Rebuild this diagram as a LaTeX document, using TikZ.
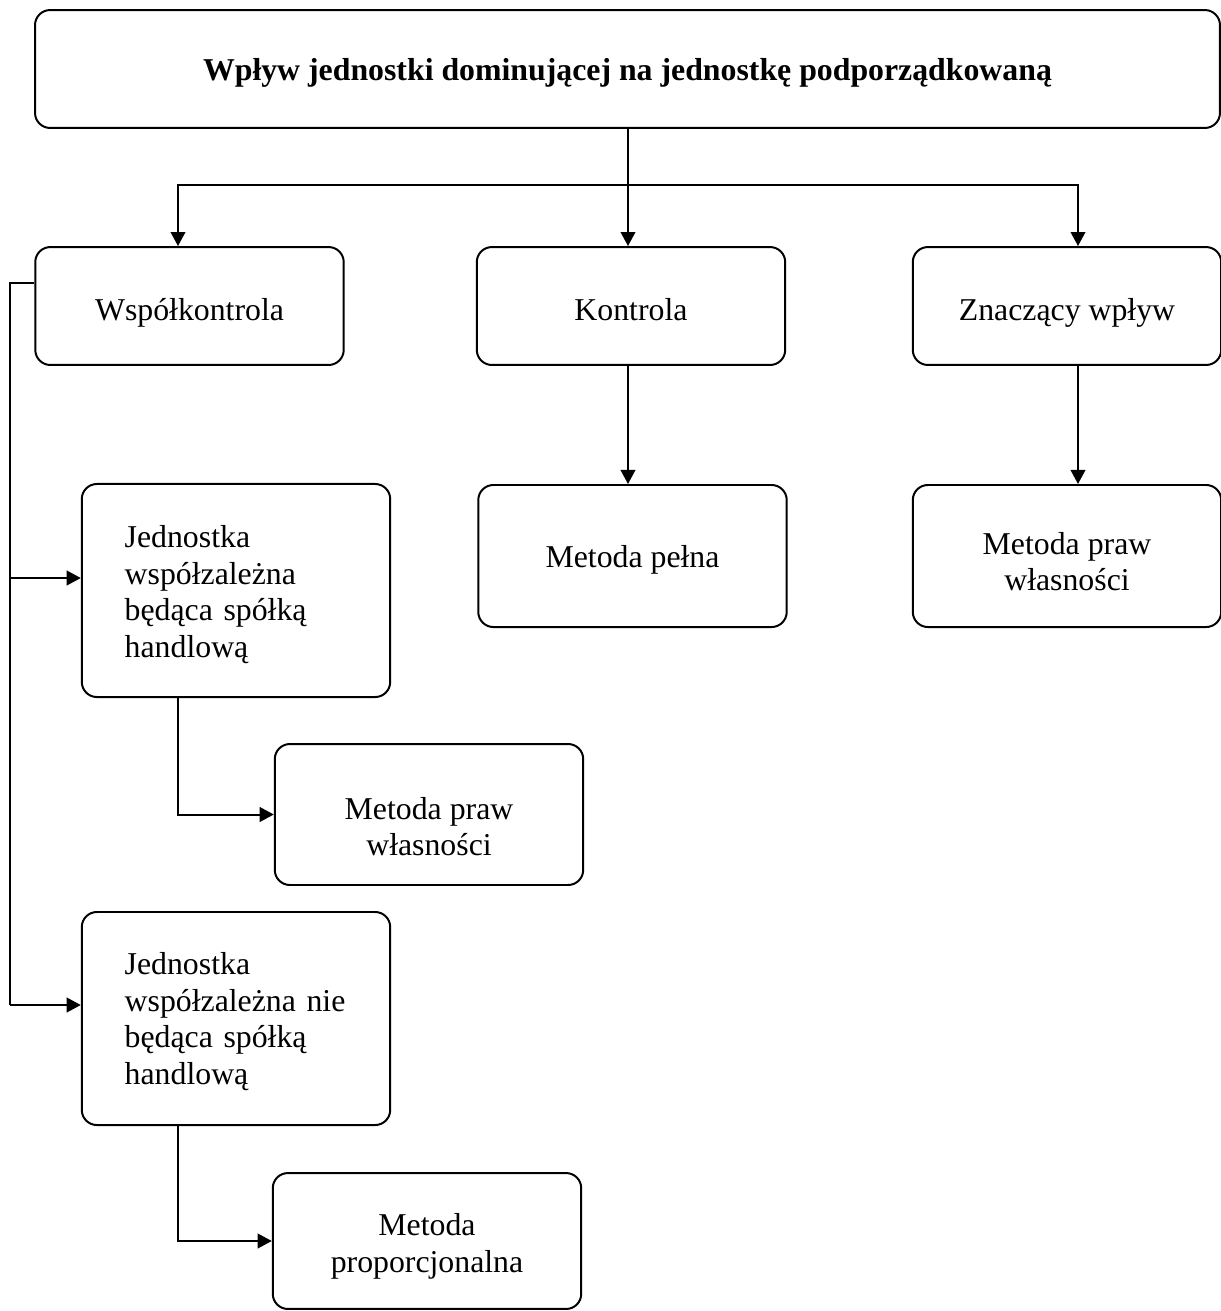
\documentclass[tikz,border=0pt]{standalone}
\usepackage{fontspec}
\setmainfont{Liberation Serif}
\usetikzlibrary{arrows.meta}

\begin{document}
\begin{tikzpicture}[x=0.3774pt, y=-0.3774pt, >={Triangle[length=5.3pt,width=5.5pt]}, line width=0.75pt, font=\fontsize{12}{13.8}\selectfont]
 \tikzstyle{box}=[rectangle, rounded corners=5.7pt, draw, minimum width=116.4pt, minimum height=44.5pt, align=center, text height=11pt, text depth=0pt]
 \tikzstyle{tall}=[box, minimum height=80.4pt, align=left, text width=84pt, text height=0pt]
\useasboundingbox (0,0) rectangle (1221,1311);

\node[box, minimum width=447.2pt, text height=8.8pt] (wplyw) at (627.5,69) {\textbf{Wpływ jednostki dominującej na jednostkę podporządkowaną}};
\node[box]                       (wspol) at (189.5,306) {Współkontrola};
\node[box]                       (kontr) at (631,306)   {Kontrola};
\node[box]                       (znacz) at (1067,306)  {Znaczący wpływ};
\node[box, minimum height=53.6pt, text height=8.8pt] (pelna) at (632.5,556) {Metoda pełna};
\node[box, minimum height=53.6pt, text height=26.1pt] (praw) at (1067,556) {Metoda praw\\własności};
\node[tall, text depth=32.4pt]    (handl) at (236,590.5) {Jednostka\\współzależna\\będąca spółką\\handlową};
\node[box, minimum height=53.2pt, text height=31pt] (praw2) at (429,814.5) {Metoda praw\\własności};
\node[tall, text depth=33.2pt]    (niehandl) at (236,1018.5) {Jednostka\\współzależna nie\\będąca spółką\\handlową};
\node[box, minimum height=51.3pt, text height=23.8pt] (prop) at (427,1241) {Metoda\\proporcjonalna};

\coordinate (rozw) at (628,185);
\coordinate (lewy) at (10,283);
\coordinate (odg1) at (10,578);
\coordinate (odg2) at (10,1005);

\draw (wplyw.south -| rozw) -- (rozw);
\draw[->] (rozw) -| (178,0 |- wspol.north);
\draw[->] (rozw) -- (kontr.north -| rozw);
\draw[->] (rozw) -| (1078,0 |- znacz.north);
\draw[->] (kontr.south -| rozw) -- (pelna.north -| rozw);
\draw[->] (1078,0 |- znacz.south) -- (1078,0 |- praw.north);

\draw (wspol.west |- lewy) -- (lewy) -- (odg2);
\draw[->] (odg1) -- (handl.west |- odg1);
\draw[->] (odg2) -- (niehandl.west |- odg2);
\draw[->] (178,0 |- handl.south) |- (praw2.west);
\draw[->] (178,0 |- niehandl.south) |- (prop.west);
\end{tikzpicture}
\end{document}
